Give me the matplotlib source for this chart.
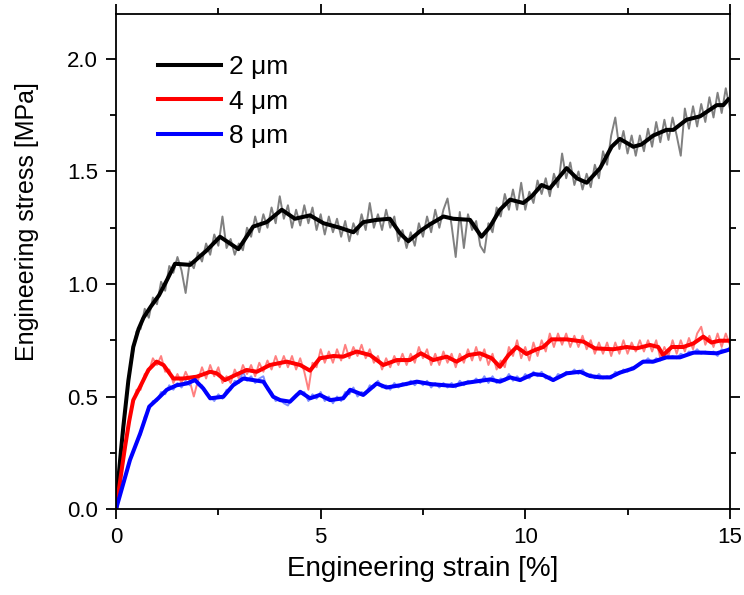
import numpy as np
import matplotlib
matplotlib.use("Agg")
import matplotlib.pyplot as plt
from matplotlib.ticker import MultipleLocator

plt.rcParams['font.family'] = ['Liberation Sans', 'DejaVu Sans']

# smoothed curves (strain %, stress MPa)
x_2um = [0, 0.06, 0.12, 0.18, 0.30, 0.42, 0.55, 0.67, 0.85, 1.05, 1.25, 1.44, 1.81, 2.22, 2.54,
         2.99, 3.35, 3.68, 4.05, 4.37, 4.74, 5.07, 5.47, 5.80, 6.04, 6.37, 6.69, 6.94, 7.14,
         7.43, 7.67, 8.0, 8.24, 8.65, 8.93, 9.14, 9.38, 9.63, 9.95, 10.16, 10.40, 10.60,
         11.01, 11.26, 11.50, 11.83, 12.11, 12.31, 12.64, 12.84, 13.13, 13.45, 13.62, 13.94,
         14.27, 14.68, 14.84, 14.96]
y_2um = [0, 0.14, 0.26, 0.37, 0.57, 0.72, 0.80, 0.85, 0.90, 0.95, 1.02, 1.09, 1.085, 1.15, 1.21,
         1.155, 1.255, 1.275, 1.33, 1.29, 1.305, 1.27, 1.25, 1.23, 1.275, 1.285, 1.29, 1.225, 1.19,
         1.235, 1.265, 1.30, 1.29, 1.285, 1.21, 1.255, 1.33, 1.375, 1.36, 1.39, 1.44, 1.425,
         1.515, 1.47, 1.45, 1.515, 1.61, 1.645, 1.61, 1.62, 1.66, 1.685, 1.685, 1.73,
         1.745, 1.795, 1.795, 1.82]

x_4um = [0, 0.08, 0.15, 0.22, 0.32, 0.42, 0.59, 0.79, 0.99, 1.16, 1.40, 1.64, 1.97, 2.30, 2.46,
         2.66, 2.91, 3.19, 3.44, 3.76, 4.17, 4.50, 4.74, 4.98, 5.31, 5.55, 5.88, 6.21, 6.53,
         6.86, 7.18, 7.45, 7.75, 8.08, 8.32, 8.61, 8.89, 9.18, 9.38, 9.59, 9.79, 10.03, 10.24,
         10.44, 10.64, 11.01, 11.42, 11.70, 12.15, 12.48, 12.72, 13.05, 13.25, 13.37, 13.58,
         13.86, 14.11, 14.35, 14.55, 14.75, 14.96]
y_4um = [0, 0.10, 0.19, 0.277, 0.39, 0.484, 0.544, 0.618, 0.655, 0.64, 0.58, 0.58, 0.588, 0.61, 0.603,
         0.573, 0.595, 0.618, 0.61, 0.64, 0.655, 0.64, 0.615, 0.67, 0.68, 0.677, 0.70, 0.684, 0.64,
         0.662, 0.662, 0.692, 0.662, 0.677, 0.655, 0.684, 0.692, 0.67, 0.632, 0.684, 0.72, 0.689, 0.707,
         0.72, 0.754, 0.754, 0.744, 0.714, 0.71, 0.72, 0.714, 0.729, 0.72, 0.684, 0.72,
         0.72, 0.736, 0.766, 0.74, 0.748, 0.748]

x_8um = [0, 0.34, 0.59, 0.81, 1.03, 1.24, 1.48, 1.73, 1.93, 2.13, 2.30, 2.62, 2.86, 3.11,
         3.35, 3.60, 3.84, 4.01, 4.25, 4.50, 4.74, 4.98, 5.23, 5.55, 5.72, 6.04, 6.37, 6.61,
         6.94, 7.35, 7.70, 8.24, 8.57, 9.14, 9.38, 9.63, 9.87, 10.20, 10.44, 10.68, 11.01,
         11.34, 11.58, 11.83, 12.07, 12.31, 12.64, 12.88, 13.13, 13.45, 13.78, 14.11, 14.35,
         14.68, 14.96]
y_8um = [0, 0.218, 0.336, 0.455, 0.492, 0.53, 0.55, 0.558, 0.573, 0.536, 0.492, 0.499, 0.55, 0.58,
         0.573, 0.566, 0.499, 0.484, 0.477, 0.521, 0.492, 0.507, 0.484, 0.492, 0.53, 0.507, 0.558, 0.54,
         0.55, 0.566, 0.555, 0.547, 0.561, 0.576, 0.566, 0.585, 0.573, 0.60, 0.595, 0.573, 0.603,
         0.61, 0.591, 0.585, 0.585, 0.606, 0.625, 0.655, 0.655, 0.674, 0.674, 0.695, 0.695,
         0.692, 0.707]

# raw measurements, sampled every 0.1 % strain
raw_strain = np.round(np.arange(0, 15.05, 0.1), 1)
raw_2um = [0.00, 0.21, 0.38, 0.58, 0.68, 0.79, 0.80, 0.89, 0.85, 0.94,
           0.91, 1.01, 0.97, 1.08, 1.05, 1.12, 1.06, 0.96, 1.10, 1.07,
           1.14, 1.10, 1.18, 1.13, 1.22, 1.17, 1.30, 1.16, 1.20, 1.13,
           1.18, 1.15, 1.25, 1.21, 1.30, 1.23, 1.31, 1.25, 1.34, 1.27,
           1.39, 1.29, 1.35, 1.25, 1.33, 1.26, 1.35, 1.27, 1.34, 1.24,
           1.31, 1.22, 1.30, 1.23, 1.29, 1.21, 1.28, 1.19, 1.27, 1.22,
           1.31, 1.24, 1.36, 1.25, 1.31, 1.24, 1.33, 1.25, 1.30, 1.19,
           1.24, 1.16, 1.23, 1.17, 1.27, 1.21, 1.30, 1.23, 1.33, 1.25,
           1.33, 1.38, 1.26, 1.12, 1.32, 1.16, 1.31, 1.24, 1.28, 1.17,
           1.14, 1.27, 1.23, 1.34, 1.30, 1.40, 1.33, 1.42, 1.33, 1.45,
           1.33, 1.41, 1.36, 1.46, 1.40, 1.47, 1.39, 1.49, 1.43, 1.58,
           1.47, 1.54, 1.44, 1.50, 1.42, 1.49, 1.43, 1.53, 1.47, 1.59,
           1.53, 1.66, 1.74, 1.60, 1.68, 1.58, 1.66, 1.57, 1.66, 1.59,
           1.69, 1.61, 1.72, 1.63, 1.73, 1.64, 1.74, 1.66, 1.57, 1.78,
           1.69, 1.79, 1.70, 1.80, 1.72, 1.83, 1.74, 1.85, 1.76, 1.87,
           1.78]
raw_4um = [0.00, 0.15, 0.25, 0.38, 0.46, 0.53, 0.53, 0.60, 0.61, 0.67,
           0.64, 0.68, 0.61, 0.62, 0.56, 0.60, 0.56, 0.61, 0.57, 0.50,
           0.57, 0.63, 0.58, 0.64, 0.59, 0.63, 0.56, 0.59, 0.56, 0.62,
           0.58, 0.64, 0.60, 0.64, 0.59, 0.65, 0.61, 0.66, 0.62, 0.68,
           0.63, 0.68, 0.63, 0.68, 0.62, 0.67, 0.61, 0.53, 0.65, 0.63,
           0.71, 0.65, 0.70, 0.65, 0.71, 0.66, 0.73, 0.67, 0.72, 0.68,
           0.73, 0.67, 0.71, 0.65, 0.68, 0.62, 0.67, 0.63, 0.68, 0.64,
           0.69, 0.64, 0.69, 0.65, 0.72, 0.67, 0.71, 0.64, 0.69, 0.64,
           0.70, 0.65, 0.69, 0.63, 0.69, 0.65, 0.71, 0.66, 0.72, 0.66,
           0.71, 0.64, 0.69, 0.62, 0.66, 0.63, 0.72, 0.68, 0.75, 0.67,
           0.72, 0.66, 0.74, 0.68, 0.75, 0.70, 0.78, 0.72, 0.78, 0.73,
           0.78, 0.72, 0.77, 0.72, 0.77, 0.71, 0.75, 0.69, 0.74, 0.69,
           0.74, 0.68, 0.74, 0.69, 0.75, 0.69, 0.74, 0.70, 0.75, 0.70,
           0.75, 0.70, 0.75, 0.67, 0.72, 0.68, 0.75, 0.69, 0.75, 0.70,
           0.76, 0.71, 0.78, 0.81, 0.73, 0.77, 0.72, 0.78, 0.72, 0.78,
           0.73]
raw_8um = [0.00, 0.07, 0.12, 0.20, 0.24, 0.30, 0.33, 0.41, 0.44, 0.48,
           0.48, 0.52, 0.51, 0.55, 0.53, 0.56, 0.54, 0.57, 0.55, 0.59,
           0.55, 0.55, 0.51, 0.50, 0.48, 0.51, 0.49, 0.53, 0.53, 0.57,
           0.56, 0.61, 0.57, 0.59, 0.56, 0.58, 0.59, 0.53, 0.52, 0.48,
           0.49, 0.47, 0.46, 0.49, 0.51, 0.51, 0.52, 0.48, 0.51, 0.49,
           0.52, 0.48, 0.50, 0.47, 0.50, 0.48, 0.52, 0.51, 0.54, 0.50,
           0.52, 0.51, 0.55, 0.54, 0.57, 0.54, 0.55, 0.53, 0.56, 0.54,
           0.56, 0.55, 0.57, 0.55, 0.57, 0.55, 0.57, 0.54, 0.56, 0.54,
           0.56, 0.54, 0.56, 0.54, 0.57, 0.55, 0.57, 0.56, 0.58, 0.56,
           0.59, 0.56, 0.59, 0.56, 0.58, 0.57, 0.60, 0.57, 0.59, 0.57,
           0.60, 0.58, 0.61, 0.59, 0.61, 0.58, 0.59, 0.57, 0.60, 0.59,
           0.61, 0.60, 0.62, 0.60, 0.62, 0.59, 0.60, 0.58, 0.60, 0.58,
           0.59, 0.58, 0.61, 0.60, 0.62, 0.61, 0.63, 0.63, 0.65, 0.65,
           0.67, 0.65, 0.67, 0.66, 0.68, 0.67, 0.68, 0.67, 0.69, 0.68,
           0.70, 0.69, 0.71, 0.69, 0.70, 0.69, 0.70, 0.68, 0.71, 0.70,
           0.72]

labels = ["2 \u03bcm", "4 \u03bcm", "8 \u03bcm"]

fig = plt.figure(figsize=(7.44, 5.95), dpi=100)
ax = fig.add_axes([0.156, 0.1445, 0.825, 0.832])

ax.plot(raw_strain, raw_2um, color="#808080", lw=1.4)
ax.plot(raw_strain, raw_4um, color="#ff8080", lw=1.4)
ax.plot(raw_strain, raw_8um, color="#7f8fff", lw=1.4)

ax.plot(x_2um, y_2um, color="black", lw=2.9, solid_joinstyle="round", label=labels[0])
ax.plot(x_4um, y_4um, color="#ff0000", lw=2.9, solid_joinstyle="round", label=labels[1])
ax.plot(x_8um, y_8um, color="#0000ff", lw=2.9, solid_joinstyle="round", label=labels[2])

ax.set_xlim(0, 15)
ax.set_ylim(0, 2.2)
ax.xaxis.set_major_locator(MultipleLocator(5))
ax.xaxis.set_minor_locator(MultipleLocator(2.5))
ax.yaxis.set_major_locator(MultipleLocator(0.5))
ax.yaxis.set_minor_locator(MultipleLocator(0.25))
ax.tick_params(which="both", direction="out", top=True, right=True, width=1.3,
               labelsize=16, pad=6)
ax.tick_params(which="major", length=7)
ax.tick_params(which="minor", length=4)
for s in ax.spines.values():
    s.set_linewidth(1.3)

ax.set_xlabel("Engineering strain [%]", fontsize=20, labelpad=6)
ax.set_ylabel("Engineering stress [MPa]", fontsize=18)
ax.yaxis.set_label_coords(-0.125, 0.58)

ax.legend(loc="upper left", bbox_to_anchor=(0.068, 0.917), frameon=False, fontsize=19,
          handlelength=2.4, handletextpad=0.3, labelspacing=0.4, borderpad=0,
          borderaxespad=0)

fig.savefig("out.png", dpi=100)
